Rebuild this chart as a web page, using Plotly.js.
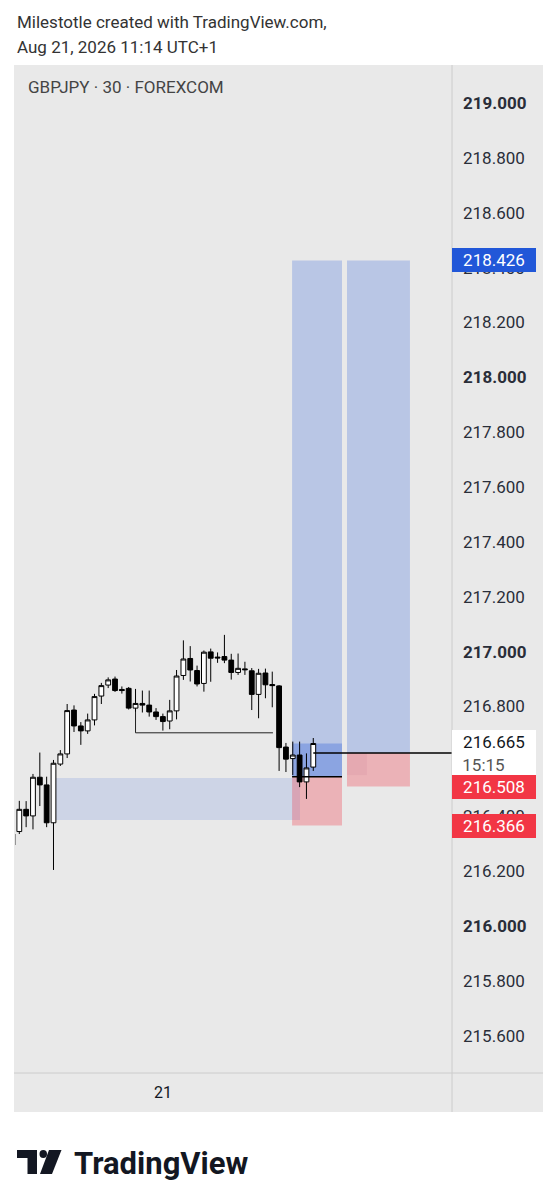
<!DOCTYPE html>
<html><head><meta charset="utf-8">
<script src="https://cdn.plot.ly/plotly-3.0.1.min.js"></script>
<style>html,body{margin:0;padding:0;background:#fff;}#chart{width:556px;height:1200px;}</style>
</head><body><div id="chart"></div>
<script>
// ---- candle data (30-min GBPJPY) ----
const idx = [-1,0,1,2,3,4,5,6,7,8,9,10,11,12,13,14,15,16,17,18,19,20,21,22,23,24,25,26,27,28,29,30,31,32,33,34,35,36,37,38,39,40,41,42,43];
const openP = [216.295,216.344,216.425,216.401,216.542,216.514,216.376,216.590,216.627,216.787,216.729,216.711,216.751,216.838,216.878,216.900,216.862,216.866,216.794,216.811,216.805,216.780,216.763,216.747,216.784,216.913,216.975,216.931,216.884,216.999,216.980,216.982,216.969,216.924,216.937,216.930,216.844,216.922,216.880,216.875,216.652,216.610,216.623,216.525,216.579];
const highP = [216.342,216.456,216.455,216.554,216.632,216.544,216.605,216.641,216.809,216.804,216.743,216.774,216.846,216.886,216.906,216.909,216.873,216.871,216.864,216.858,216.858,216.794,216.774,216.824,216.933,217.041,217.020,216.949,217.004,217.011,216.997,217.061,216.992,216.993,216.963,216.940,216.937,216.938,216.927,216.878,216.667,216.672,216.672,216.629,216.685];
const lowP  = [216.284,216.335,216.360,216.352,216.437,216.360,216.204,216.583,216.612,216.707,216.660,216.700,216.731,216.809,216.867,216.853,216.847,216.789,216.780,216.778,216.763,216.751,216.712,216.717,216.753,216.897,216.891,216.873,216.854,216.890,216.959,216.958,216.898,216.915,216.915,216.787,216.757,216.830,216.797,216.565,216.561,216.550,216.506,216.463,216.565];
const closeP= [216.335,216.425,216.401,216.542,216.514,216.376,216.593,216.627,216.785,216.729,216.711,216.751,216.836,216.876,216.897,216.858,216.858,216.794,216.811,216.805,216.780,216.763,216.745,216.784,216.911,216.973,216.933,216.882,216.998,216.976,216.977,216.969,216.924,216.939,216.934,216.844,216.921,216.879,216.876,216.650,216.608,216.623,216.525,216.576,216.665];

// ---- axis ticks ----
const priceTicks = [215.6,215.8,216.0,216.2,216.4,216.6,216.8,217.0,217.2,217.4,217.6,217.8,218.0,218.2,218.4,218.6,218.8,219.0];
const priceTickText = ['215.600','215.800','<b>216.000</b>','216.200','216.400','216.600','216.800','<b>217.000</b>','217.200','217.400','217.600','217.800','<b>218.000</b>','218.200','218.400','218.600','218.800','<b>219.000</b>'];
const timeTicks = [21];
const timeTickText = ['21'];

// ---- drawings ----
const lastPrice = 216.665;
const lastTimer = '15:15';
const target = 218.426;
const box1X = [39.9, 47.2];  const entry1 = 216.544; const stop1 = 216.366;
const box2X = [47.93, 57.14]; const entry2 = 216.630; const stop2 = 216.508;
const zoneX = [5.37, 41.06]; const zoneTop = 216.539; const zoneBottom = 216.386;
const lvlX = [17, 37.1]; const lvlFrom = 216.780; const lvlPrice = 216.704;
const rayX = [43, 63.3]; const rayPrice = 216.630;
const tintX = [47.93, 50.85]; const tintTop = 216.630; const tintBottom = 216.550;

const L=15, R=452, T=65, B=1073;
const px = p => (p-L)/(R-L);
const py = p => (B-p)/(B-T);
const FONT = 'Roboto, "Noto Sans", sans-serif';
const BLUE_FILL = 'rgba(33,87,216,0.24)';
const RED_FILL = 'rgba(242,54,69,0.3)';

const shapes = [
  {type:'rect', xref:'paper', yref:'paper', x0:px(14), x1:px(543), y0:py(1112), y1:py(65), fillcolor:'#e9e9e9', line:{width:0}, layer:'below'},
  {type:'rect', xref:'x', yref:'y', x0:zoneX[0], x1:zoneX[1], y0:zoneBottom, y1:zoneTop, fillcolor:'rgba(33,87,216,0.14)', line:{width:0}, layer:'below'},
  {type:'rect', xref:'x', yref:'y', x0:box1X[0], x1:box1X[1], y0:entry1, y1:target, fillcolor:BLUE_FILL, line:{width:0}, layer:'below'},
  {type:'rect', xref:'x', yref:'y', x0:box1X[0], x1:box1X[1], y0:stop1, y1:entry1, fillcolor:RED_FILL, line:{width:0}, layer:'below'},
  {type:'rect', xref:'x', yref:'y', x0:box1X[0], x1:box1X[1], y0:entry1, y1:lastPrice, fillcolor:'rgba(33,87,216,0.3)', line:{width:0}, layer:'below'},
  {type:'rect', xref:'x', yref:'y', x0:box2X[0], x1:box2X[1], y0:entry2, y1:target, fillcolor:BLUE_FILL, line:{width:0}, layer:'below'},
  {type:'rect', xref:'x', yref:'y', x0:box2X[0], x1:box2X[1], y0:stop2, y1:entry2, fillcolor:RED_FILL, line:{width:0}, layer:'below'},
  {type:'rect', xref:'x', yref:'y', x0:tintX[0], x1:tintX[1], y0:tintBottom, y1:tintTop, fillcolor:'rgba(160,60,120,0.08)', line:{width:0}, layer:'below'},
  {type:'line', xref:'x', yref:'y', x0:box1X[0], x1:box1X[1], y0:entry1, y1:entry1, line:{color:'#000', width:1.5}},
  {type:'line', xref:'x', yref:'y', x0:rayX[0], x1:rayX[1], y0:rayPrice, y1:rayPrice, line:{color:'#000', width:1.5}},
  {type:'line', xref:'x', yref:'y', x0:lvlX[0], x1:lvlX[0], y0:lvlFrom, y1:lvlPrice, line:{color:'#222', width:1}},
  {type:'line', xref:'x', yref:'y', x0:lvlX[0], x1:lvlX[1], y0:lvlPrice, y1:lvlPrice, line:{color:'#222', width:1}},
  {type:'line', xref:'paper', yref:'paper', x0:1, x1:1, y0:py(1112), y1:1, line:{color:'#cccccc', width:1}},
  {type:'line', xref:'paper', yref:'paper', x0:px(14), x1:px(543), y0:0, y1:0, line:{color:'#cccccc', width:1}},
  // TradingView logo mark
  {type:'rect', xref:'paper', yref:'paper', x0:px(17), x1:px(37), y0:py(1158), y1:py(1150), fillcolor:'#131722', line:{width:0}},
  {type:'rect', xref:'paper', yref:'paper', x0:px(27.5), x1:px(37), y0:py(1174), y1:py(1150), fillcolor:'#131722', line:{width:0}},
  {type:'circle', xref:'paper', yref:'paper', x0:px(39.5), x1:px(47), y0:py(1158), y1:py(1150), fillcolor:'#131722', line:{width:0}},
  {type:'path', xref:'paper', yref:'paper', path:`M${px(49)},${py(1150)} L${px(61.5)},${py(1150)} L${px(52)},${py(1174)} L${px(40)},${py(1174)} Z`, fillcolor:'#131722', line:{width:0}}
];

const NB = '\u00A0';
const labelBase = {xref:'paper', x:1, xanchor:'left', yref:'y', yanchor:'middle', showarrow:false, width:84, height:24, borderpad:0, borderwidth:0, font:{family:FONT, size:17, color:'#ffffff'}};
const annotations = [
  {xref:'paper', yref:'paper', x:px(15), y:py(22), xanchor:'left', yanchor:'middle', showarrow:false, text:'Milestotle created with TradingView.com,', font:{family:FONT, size:17, color:'#333'}},
  {xref:'paper', yref:'paper', x:px(15), y:py(47), xanchor:'left', yanchor:'middle', showarrow:false, text:'Aug 21, 2026 11:14 UTC+1', font:{family:FONT, size:17, color:'#333'}},
  {xref:'paper', yref:'paper', x:px(26), y:py(87), xanchor:'left', yanchor:'middle', showarrow:false, text:'GBPJPY · 30 · FOREXCOM', font:{family:FONT, size:17, color:'#444'}},
  Object.assign({}, labelBase, {y:target, text:target.toFixed(3), bgcolor:'#2157d8'}),
  Object.assign({}, labelBase, {y:lastPrice, yanchor:'top', yshift:13.5, height:47, text:lastPrice.toFixed(3)+'<br><span style="color:#555">'+lastTimer+NB.repeat(5)+'</span>', bgcolor:'#ffffff', font:{family:FONT, size:17, color:'#131722'}}),
  Object.assign({}, labelBase, {y:stop2, text:stop2.toFixed(3), bgcolor:'#f23645'}),
  Object.assign({}, labelBase, {y:stop1, text:stop1.toFixed(3), bgcolor:'#f23645'}),
  {xref:'paper', yref:'paper', x:px(72), y:py(1163), xanchor:'left', yanchor:'middle', showarrow:false, text:'<b>TradingView</b>', font:{family:FONT, size:31, color:'#131722'}}
];

const trace = {
  type:'candlestick', x:idx, open:openP, high:highP, low:lowP, close:closeP,
  increasing:{line:{color:'#000000', width:1}, fillcolor:'#ffffff'},
  decreasing:{line:{color:'#000000', width:1}, fillcolor:'#000000'},
  whiskerwidth:0, hoverinfo:'skip'
};

const layout = {
  width:556, height:1200,
  margin:{l:L, r:556-R, t:T, b:1200-B},
  paper_bgcolor:'#ffffff', plot_bgcolor:'#e9e9e9',
  showlegend:false, boxgap:0.3, boxgroupgap:0,
  xaxis:{range:[-0.63,63.29], tickmode:'array', tickvals:timeTicks, ticktext:timeTickText, showgrid:false, zeroline:false, showline:false, ticks:'', rangeslider:{visible:false}, ticklabelstandoff:8, tickfont:{family:FONT, size:16, color:'#131722'}, fixedrange:true},
  yaxis:{side:'right', range:[215.4638,219.1385], tickmode:'array', tickvals:priceTicks, ticktext:priceTickText, showgrid:false, zeroline:false, showline:false, ticks:'', ticklabelstandoff:10, tickfont:{family:FONT, size:17, color:'#2a2e39'}, fixedrange:true},
  shapes:shapes, annotations:annotations
};

Plotly.newPlot('chart', [trace], layout, {staticPlot:true, displayModeBar:false});
</script>
</body></html>
